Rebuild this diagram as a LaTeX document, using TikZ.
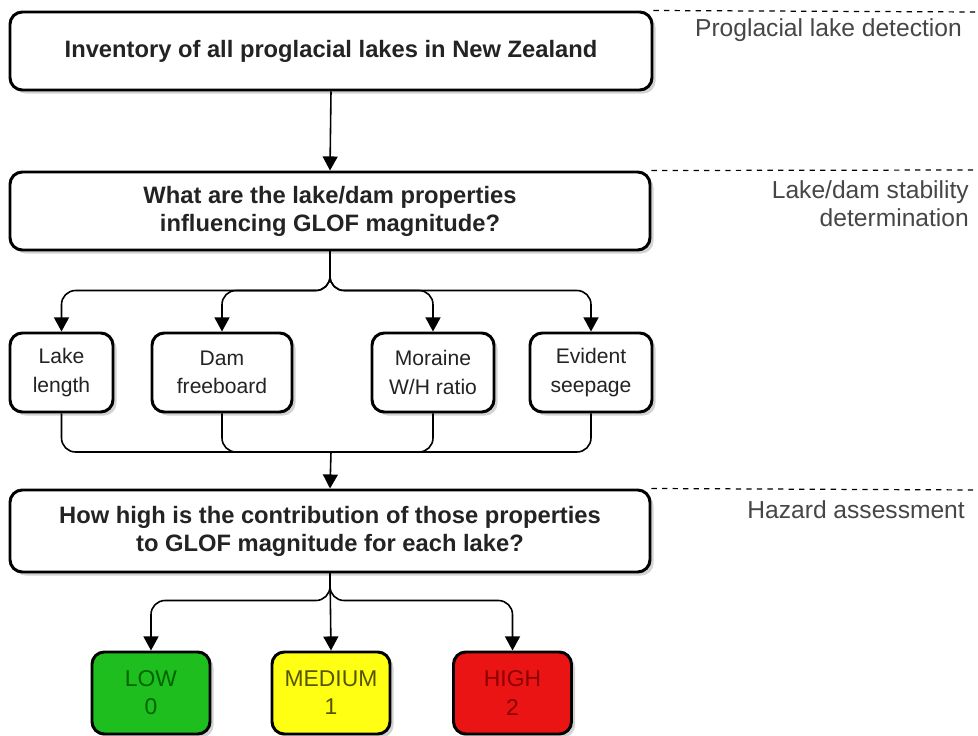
\documentclass[tikz,border=0pt]{standalone}
\usepackage{fontspec}
\setmainfont{Liberation Sans}
\usepackage{tikz}
\usetikzlibrary{shapes, arrows.meta, positioning, calc, shadows}
\definecolor{lowgreen}{RGB}{30, 190, 30}
\definecolor{lowtext}{RGB}{0, 100, 0}
\definecolor{medyellow}{RGB}{255, 255, 20}
\definecolor{medtext}{RGB}{85, 85, 0}
\definecolor{highred}{RGB}{235, 20, 20}
\definecolor{hightext}{RGB}{140, 0, 0}
\definecolor{phasegray}{RGB}{70, 70, 70}
\definecolor{boxtext}{RGB}{35, 35, 35}

\begin{document}
\begin{tikzpicture}[
  sbox/.style={draw, line width=1.7pt, rounded corners=7pt, fill=white, align=center, inner sep=2pt,
    text=boxtext, font=\fontsize{13.5pt}{16pt}\selectfont\bfseries,
    drop shadow={opacity=0.35, shadow xshift=2pt, shadow yshift=-2pt}},
  prop/.style={sbox, minimum height=1.58cm, font=\fontsize{12pt}{16pt}\selectfont},
  lvl/.style={sbox, minimum width=2.36cm, minimum height=1.64cm, font=\fontsize{13pt}{16pt}\selectfont},
  arr/.style={-{Triangle[width=8.5pt, length=8pt]}, line width=0.9pt, rounded corners=8pt},
  phase/.style={dashed, line width=0.7pt},
  phlabel/.style={anchor=east, align=right, text=phasegray, font=\fontsize{14pt}{16pt}\selectfont}
]
  \useasboundingbox (0,0) rectangle (19.56,-14.72);

  % main steps
  \node[sbox, minimum width=12.84cm, minimum height=1.56cm] (inventory) at (6.62,-1.02)
    {Inventory of all proglacial lakes in New Zealand};
  \node[sbox, minimum width=12.8cm, minimum height=1.56cm] (properties) at (6.6,-4.22)
    {What are the lake/dam properties\\influencing GLOF magnitude?};

  % properties
  \node[prop, minimum width=2.06cm] (lakelen) at (1.23,-7.45) {Lake\\length};
  \node[prop, minimum width=2.8cm] (freeboard) at (4.44,-7.45) {Dam\\freeboard};
  \node[prop, minimum width=2.44cm] (moraine) at (8.66,-7.45) {Moraine\\W/H ratio};
  \node[prop, minimum width=2.44cm] (seepage) at (11.82,-7.45) {Evident\\seepage};

  \node[sbox, minimum width=12.8cm, minimum height=1.64cm] (contribution) at (6.6,-10.62)
    {How high is the contribution of those properties\\to GLOF magnitude for each lake?};

  % hazard levels
  \node[lvl, fill=lowgreen, text=lowtext] (low) at (3.02,-13.86) {LOW\\0};
  \node[lvl, fill=medyellow, text=medtext] (medium) at (6.62,-13.86) {MEDIUM\\1};
  \node[lvl, fill=highred, text=hightext] (high) at (10.25,-13.86) {HIGH\\2};

  % connectors
  \draw[arr] (inventory.south) -- (properties.north);
  \foreach \n in {lakelen, freeboard, moraine, seepage}
    \draw[arr] (properties.south) |- ($(\n.north)+(0,0.82)$) -- (\n.north);

  \coordinate (merge) at (6.62,-9.04);
  \foreach \n in {lakelen, freeboard, moraine, seepage}
    \draw[line width=0.9pt, rounded corners=8pt] (\n.south) |- (merge);
  \draw[arr] (merge) -- (contribution.north);

  \draw[arr] (contribution.south) |- ($(low.north)+(0,1)$) -- (low.north);
  \draw[arr] (contribution.south) -- (medium.north);
  \draw[arr] (contribution.south) |- ($(high.north)+(0,1)$) -- (high.north);

  % phases
  \draw[phase] (inventory.north east) -- (19.56,-0.24);
  \draw[phase] (properties.north east) -- (19.56,-3.4);
  \draw[phase] (contribution.north east) -- (19.56,-9.8);
  \node[phlabel] (detect) at (19.36,-0.6) {Proglacial lake detection};
  \node[phlabel] (stability) at (19.5,-4.08) {Lake/dam stability\\determination};
  \node[phlabel] (hazard) at (19.42,-10.2) {Hazard assessment};
\end{tikzpicture}
\end{document}
